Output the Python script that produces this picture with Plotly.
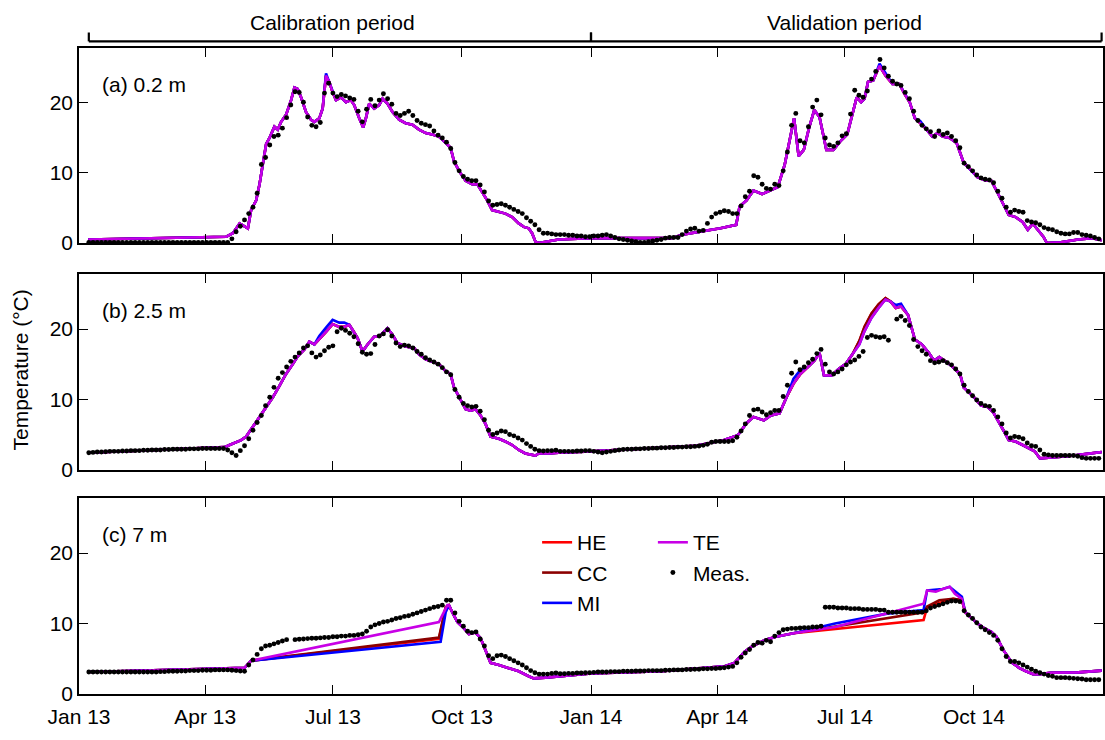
import pandas as pd
import plotly.graph_objects as go
from plotly.subplots import make_subplots

BASE = pd.Timestamp("2013-01-01")

# ---------------- axis ticks ----------------
tick_dates = ["2013-01-01", "2013-04-01", "2013-07-01", "2013-10-01",
              "2014-01-01", "2014-04-01", "2014-07-01", "2014-10-01"]
tick_text = ["Jan 13", "Apr 13", "Jul 13", "Oct 13", "Jan 14", "Apr 14", "Jul 14", "Oct 14"]
y_ticks = [0, 10, 20]

series_names = ["HE", "CC", "MI", "TE"]
series_colors = {"HE": "#ff0000", "CC": "#8b0000", "MI": "#0000ff", "TE": "#c800e6"}
panel_labels = ["(a) 0.2 m", "(b) 2.5 m", "(c) 7 m"]

# ---------------- simulated series: (days since 2013-01-01, temperature) -------------
# (a) 0.2 m  -- the four models overlap almost everywhere
a_te = [(6.6, 0.5), (105, 0.9), (109.7, 1.4), (114.5, 2.8), (120.4, 2.1), (122.7, 4.7), (126.3, 6.1),
        (128.7, 8.4), (131, 11.2), (133.4, 14.1), (135.8, 15.0), (139.3, 16.6), (141.7, 16.2),
        (144.1, 17.3), (147.6, 18.3), (151.2, 20.4), (153.6, 22.2), (155.9, 22.0), (158.3, 20.8),
        (161.8, 18.7), (165.4, 17.6), (167.8, 17.3), (171.3, 17.8), (173.7, 19.2), (176.1, 23.9),
        (178.4, 23.0), (180.8, 21.5), (183.2, 20.4), (186.7, 20.8), (190.3, 20.1), (193.8, 20.4),
        (196.2, 19.7), (199.8, 17.8), (202.6, 16.5), (204.5, 17.8), (206.9, 19.9), (210.4, 19.2),
        (214, 19.7), (216.4, 20.6), (219.9, 19.9), (223.5, 18.7), (228.2, 17.6), (232.9, 17.1),
        (237.7, 16.9), (242.4, 16.2), (247.2, 15.7), (251.9, 15.5), (256.6, 15.2), (261.4, 14.3),
        (264.9, 13.6), (267.3, 11.7), (270.9, 10.3), (275.6, 8.9), (280.3, 8.4), (283.9, 8.4),
        (287.4, 7.3), (291, 6.1), (294.5, 4.7), (299.3, 4.4), (304, 4.2), (308.8, 3.7), (313.5, 2.8),
        (317.1, 2.3), (320.6, 2.1), (323, 1.4), (325.4, 0.2), (327.7, 0.0), (334.8, 0.2), (341.9, 0.5),
        (365, 0.7), (422.7, 0.7), (430.1, 1.2), (440, 1.5), (457.3, 2.1), (468.5, 2.6), (470.9, 5.2),
        (475.9, 6.1), (480.8, 7.5), (487, 7.0), (492, 7.5), (498.2, 8.0), (503.1, 11.2), (506.8, 15.0),
        (509.8, 17.8), (513, 12.4), (516.7, 13.3), (520.4, 16.4), (524.2, 19.0), (527.9, 18.0),
        (532.8, 13.3), (537.8, 13.3), (542.7, 14.5), (547.7, 15.5), (551.4, 18.3), (554.4, 20.8),
        (557.6, 20.1), (560, 20.6), (562.5, 23.0), (566.2, 23.2), (570.7, 25.3), (574.9, 23.9),
        (579.9, 22.7), (584.8, 22.7), (588.5, 21.3), (592.2, 20.1), (595.9, 17.8), (599.7, 17.1),
        (603.4, 16.4), (608.3, 15.2), (612, 15.7), (615.7, 15.2), (620.7, 15.0), (625.6, 14.3),
        (630.6, 11.5), (635.5, 10.5), (640.5, 9.4), (646.7, 8.9), (650.4, 8.9), (655.3, 7.0),
        (659, 5.6), (662.8, 4.0), (667.7, 3.7), (672.7, 3.0), (676.4, 1.9), (680.1, 2.8), (682.6, 2.1),
        (687.5, 0.9), (690, 0.0), (699.9, 0.1), (712.3, 0.5), (722.2, 0.7), (729.1, 0.4)]
# places where another model shows just above TE (day -> value)
a_mi_diff = {176.1: 24.2, 570.7: 25.6, 574.9: 24.3, 599.7: 17.4}
a_he = a_te
a_cc = a_te
a_mi = [(d, a_mi_diff.get(d, v)) for d, v in a_te]

# (b) 2.5 m
b_te = [(6.6, 2.4), (103.8, 3.2), (107.3, 3.5), (115.6, 4.2), (119.2, 4.7), (123.9, 6.1), (128.7, 7.5),
        (133.4, 8.9), (138.2, 10.3), (142.9, 11.9), (147.6, 13.6), (152.4, 15.0), (155.9, 16.1),
        (160.7, 17.1), (164.2, 18.2), (167.8, 17.8), (171.3, 18.5), (176.1, 19.6), (180.8, 20.7),
        (185.5, 20.3), (189.1, 20.3), (192.7, 20.6), (195, 19.9), (198.6, 18.7), (202.1, 16.8),
        (205.7, 17.8), (210.4, 18.9), (214, 18.9), (219.9, 20.1), (223.5, 19.2), (227, 18.0),
        (232.9, 17.5), (238.9, 17.3), (242.4, 16.4), (247.2, 15.7), (251.9, 15.4), (256.6, 15.0),
        (261.4, 14.0), (264.9, 13.6), (267.3, 11.7), (270.9, 10.3), (275.6, 8.6), (279.1, 8.4),
        (282.7, 8.6), (286.3, 7.7), (289.8, 6.5), (293.4, 4.7), (299.3, 4.4), (304, 4.0), (308.8, 3.5),
        (313.5, 2.8), (318.2, 2.3), (325.4, 2.0), (327.7, 2.3), (334.8, 2.3), (341.9, 2.4), (365, 2.6),
        (415.2, 3.1), (440, 3.4), (459.8, 4.2), (469.7, 4.9), (475.9, 6.6), (480.8, 7.5), (488.3, 7.0),
        (493.2, 7.7), (499.4, 8.0), (504.4, 10.3), (509.3, 12.2), (514.3, 13.6), (519.2, 14.5),
        (524.2, 15.5), (527.9, 16.6), (531.1, 13.4), (536.5, 13.4), (541.5, 14.3), (546.4, 15.0),
        (551.4, 16.4), (556.3, 17.8), (560, 19.7), (565, 21.6), (570, 23.0), (574.9, 24.2),
        (578.6, 23.9), (582.3, 23.0), (586, 23.2), (591, 22.0), (595.9, 18.5), (600.9, 17.8),
        (605.8, 16.6), (609.6, 15.5), (613.3, 16.0), (617, 15.5), (621.9, 14.8), (628.1, 13.6),
        (630.6, 11.7), (634.3, 11.0), (638, 10.3), (643, 9.1), (647.9, 8.9), (651.6, 8.2), (655.3, 7.0),
        (659, 5.6), (662.8, 4.2), (667.7, 4.0), (672.7, 3.5), (677.6, 3.0), (681.3, 2.6), (685, 1.6),
        (692.5, 1.7), (704.8, 1.9), (717.2, 2.2), (729.1, 2.5)]
b_mi_diff = {171.3: 19.0, 176.1: 20.2, 180.8: 21.3, 185.5: 20.9, 189.1: 20.9, 509.3: 12.9,
             514.3: 14.2, 582.3: 23.4, 586: 23.6}
b_cc_diff = {556.3: 18.3, 560: 20.3, 565: 22.2, 570: 23.5, 574.9: 24.4}
b_he = [(d, b_cc_diff.get(d, v)) for d, v in b_te]
b_cc = [(d, b_cc_diff.get(d, v)) for d, v in b_te]
b_mi = [(d, b_mi_diff.get(d, v)) for d, v in b_te]

# (c) 7 m  -- models diverge while the sensor was away
c_common_1 = [(6.6, 3.1), (112.1, 3.6), (118, 3.7), (122.7, 4.7)]
c_te_gap1 = [(256.6, 10.2), (262.6, 12.6)]
c_cc_gap1 = [(256.6, 8.0), (261.4, 12.3)]
c_he_gap1 = [(256.6, 7.8), (261.4, 12.3)]
c_mi_gap1 = [(257.8, 7.4), (261.4, 11.6)]
c_common_2 = [(263.7, 12.6), (266.1, 11.6), (269.7, 10.2), (274.4, 9.3), (278, 8.5), (282.7, 8.7),
              (286.3, 7.9), (289.8, 6.2), (293.4, 4.4), (299.3, 4.1), (306.4, 3.7), (313.5, 3.2),
              (320.6, 2.5), (324.2, 2.2), (332.5, 2.3), (341.9, 2.5), (365, 2.9), (415.2, 3.2),
              (459.8, 3.9), (467.2, 4.4), (474.7, 6.0), (479.6, 6.7), (484.6, 7.2), (489.5, 7.7),
              (496.9, 8.1), (509.3, 8.6)]
c_te_gap2 = [(539, 9.5), (576.1, 11.4), (602.1, 12.8), (604.6, 14.7), (610.8, 14.5), (615.7, 14.9),
             (620.7, 15.2), (624.4, 14.2), (629.4, 13.5)]
c_mi_gap2 = [(539, 10.0), (576.1, 11.4), (602.1, 11.9), (604.6, 14.7), (615.7, 14.9), (620.7, 15.2),
             (629.4, 13.8)]
c_cc_gap2 = [(602.1, 11.6), (604.6, 12.4), (613.3, 13.3), (623.2, 13.5), (629.4, 13.3)]
c_he_gap2 = [(602.1, 10.5), (604.6, 12.3), (613.3, 12.9), (623.2, 13.5), (629.4, 13.3)]
c_common_3 = [(631.8, 11.6), (635.5, 10.9), (640.5, 10.0), (645.4, 9.3), (650.4, 8.8), (654.1, 8.1),
              (659, 6.2), (665.2, 4.4), (670.2, 3.7), (675.1, 3.2), (680.1, 2.8), (685, 2.8),
              (692.5, 3.0), (712.3, 3.05), (729.1, 3.3)]
c_he = c_common_1 + c_he_gap1 + c_common_2 + c_he_gap2 + c_common_3
c_cc = c_common_1 + c_cc_gap1 + c_common_2 + c_cc_gap2 + c_common_3
c_mi = c_common_1 + c_mi_gap1 + c_common_2 + c_mi_gap2 + c_common_3
c_te = c_common_1 + c_te_gap1 + c_common_2 + c_te_gap2 + c_common_3

# ---------------- measurements: every 3rd day from 2013-01-08 ----------------
meas_start = "2013-01-08"
meas_step_days = 3
a_meas = [0.1, 0.1, 0.1, 0.1, 0.1, 0.1, 0.1, 0.1, 0.1, 0.1,
          0.1, 0.1, 0.1, 0.1, 0.1, 0.1, 0.1, 0.1, 0.1, 0.1,
          0.1, 0.1, 0.1, 0.1, 0.1, 0.1, 0.1, 0.1, 0.1, 0.1,
          0.1, 0.1, 0.1, 0.1, 0.6, 1.6, 2.4, 3.3, 4.2, 5.1,
          7.1, 11.2, 12.2, 14.0, 15.2, 15.4, 16.4, 17.9, 19.7, 21.6,
          21.5, 20.1, 18.0, 16.8, 16.6, 17.2, 21.4, 22.8, 21.4, 20.9,
          21.2, 21.0, 20.7, 20.5, 18.8, 17.3, 19.1, 20.5, 19.6, 20.4,
          21.3, 20.6, 19.8, 18.5, 18.2, 18.5, 18.8, 18.2, 17.5, 17.1,
          16.9, 16.7, 16.0, 15.4, 15.0, 14.4, 13.5, 11.5, 10.3, 9.5,
          9.1, 8.9, 8.9, 8.3, 7.3, 6.0, 5.4, 5.5, 5.6, 5.4,
          5.1, 4.8, 4.5, 4.2, 3.6, 3.1, 2.6, 1.9, 1.4, 1.4,
          1.3, 1.2, 1.2, 1.2, 1.1, 1.1, 1.0, 1.0, 0.9, 0.9,
          1.0, 1.0, 1.1, 1.2, 1.0, 0.8, 0.6, 0.5, 0.4, 0.3,
          0.2, 0.1, 0.1, 0.2, 0.3, 0.4, 0.5, 0.7, 0.8, 0.8,
          0.8, 1.2, 1.7, 2.0, 2.1, 1.7, 1.8, 2.8, 3.7, 4.2,
          4.4, 4.6, 4.5, 4.2, 4.2, 5.3, 6.6, 7.4, 9.6, 9.4,
          8.4, 7.8, 7.7, 8.4, 8.2, 10.3, 13.0, 16.8, 18.5, 14.6,
          14.3, 16.6, 19.4, 20.4, 18.3, 15.0, 14.0, 13.8, 14.3, 15.3,
          15.6, 18.4, 21.8, 21.1, 20.8, 21.7, 23.4, 24.5, 26.2, 25.0,
          23.8, 23.1, 22.7, 22.5, 21.5, 20.6, 18.8, 17.5, 16.8, 16.3,
          15.9, 15.2, 16.0, 15.5, 15.7, 15.2, 14.6, 13.6, 11.4, 10.9,
          10.3, 9.7, 9.3, 9.1, 9.0, 8.6, 7.4, 6.4, 5.1, 4.4,
          4.7, 4.5, 4.4, 3.2, 3.0, 2.9, 2.6, 2.2, 2.0, 1.9,
          1.6, 1.4, 1.3, 1.3, 1.5, 1.5, 1.2, 1.1, 1.0, 0.8,
          0.6]
b_meas = [2.4, 2.45, 2.5, 2.5, 2.55, 2.6, 2.6, 2.6, 2.65, 2.65,
          2.7, 2.7, 2.7, 2.75, 2.75, 2.8, 2.8, 2.8, 2.85, 2.85,
          2.9, 2.9, 2.9, 2.9, 2.95, 2.95, 2.95, 3.0, 3.0, 3.0,
          3.0, 3.0, 3.0, 2.8, 2.4, 2.0, 2.7, 3.4, 4.4, 5.6,
          6.7, 7.7, 9.1, 10.3, 11.7, 13.0, 13.8, 14.6, 15.4, 16.0,
          16.6, 17.3, 17.6, 16.6, 16.0, 16.3, 16.9, 17.4, 17.6, 19.6,
          20.1, 19.8, 19.4, 18.9, 17.9, 16.7, 16.4, 16.5, 17.8, 19.0,
          19.3, 19.9, 19.0, 18.0, 17.5, 17.7, 17.6, 17.3, 16.8, 16.4,
          15.9, 15.6, 15.3, 15.0, 14.5, 13.9, 13.5, 11.4, 10.3, 9.4,
          9.1, 8.9, 9.0, 8.3, 7.1, 5.6, 5.0, 5.2, 5.5, 5.4,
          5.0, 4.8, 4.5, 4.2, 3.7, 3.3, 2.9, 2.7, 2.65, 2.7,
          2.7, 2.75, 2.6, 2.6, 2.6, 2.6, 2.65, 2.65, 2.7, 2.7,
          2.6, 2.5, 2.4, 2.5, 2.6, 2.7, 2.8, 2.85, 2.9, 2.9,
          2.95, 2.95, 3.0, 3.0, 3.05, 3.05, 3.1, 3.1, 3.15, 3.15,
          3.2, 3.2, 3.25, 3.25, 3.3, 3.35, 3.45, 3.6, 3.9, 4.0,
          4.0, 4.0, 4.0, 4.1, 4.6, 5.5, 6.5, 7.7, 8.5, 8.6,
          8.2, 7.8, 8.1, 8.4, 8.4, 10.4, 12.0, 13.7, 15.3, 14.2,
          14.6, 15.2, 15.7, 16.5, 17.1, 15.0, 13.9, 13.6, 13.9, 14.3,
          14.9, 15.3, 15.6, 16.1, 16.8, 18.8, 19.1, 18.9, 18.8, 18.9,
          18.4, None, 21.4, 21.8, 21.2, 20.5, 18.5, 17.5, 16.9, 16.4,
          15.5, 15.2, 15.3, 15.5, 15.2, 14.9, 14.3, 13.6, 12.0, 11.1,
          10.5, 9.9, 9.4, 9.1, 9.0, 8.4, 7.5, 6.5, 5.2, 4.5,
          4.7, 4.6, 4.4, 3.8, 3.4, 3.3, 2.8, 2.2, 2.1, 2.0,
          2.0, 2.0, 2.0, 2.0, 2.0, 1.9, 1.7, 1.6, 1.6, 1.6,
          1.6]
c_meas = [3.1, 3.1, 3.1, 3.1, 3.1, 3.1, 3.1, 3.1, 3.1, 3.1,
          3.1, 3.1, 3.1, 3.1, 3.1, 3.1, 3.1, 3.15, 3.15, 3.2,
          3.2, 3.2, 3.25, 3.25, 3.3, 3.3, 3.3, 3.35, 3.35, 3.35,
          3.4, 3.4, 3.4, 3.4, 3.35, 3.3, 3.25, 3.2, 4.1, 4.8,
          5.6, 6.4, 6.8, 6.9, 7.1, 7.3, 7.5, 7.7, None, 7.7,
          7.75, 7.8, 7.85, 7.9, 7.9, 7.95, 8.0, 8.0, 8.1, 8.1,
          8.2, 8.2, 8.3, 8.3, 8.4, 8.5, 8.9, 9.5, 9.8, 10.0,
          10.2, 10.3, 10.5, 10.7, 10.8, 11.0, 11.1, 11.3, 11.5, 11.7,
          11.9, 12.1, 12.3, 12.4, 12.6, 13.3, 13.3, 11.5, 10.3, 9.6,
          8.9, 8.7, 8.8, 7.8, 6.8, 5.4, 5.0, 5.4, 5.5, 5.3,
          5.0, 4.7, 4.4, 4.1, 3.7, 3.3, 3.0, 2.8, 2.8, 2.8,
          2.9, 2.95, 2.85, 2.85, 2.9, 2.9, 2.95, 2.95, 3.0, 3.0,
          3.05, 3.1, 3.1, 3.1, 3.15, 3.15, 3.15, 3.2, 3.2, 3.2,
          3.25, 3.25, 3.25, 3.3, 3.3, 3.3, 3.3, 3.35, 3.35, 3.4,
          3.4, 3.4, 3.45, 3.45, 3.5, 3.5, 3.55, 3.55, 3.6, 3.6,
          3.65, 3.7, 3.8, 3.9, 4.4, 5.2, 5.8, 6.3, 6.9, 7.3,
          7.2, 7.6, 7.4, 8.2, 8.7, 9.1, 9.2, 9.3, 9.3, 9.35,
          9.4, 9.4, 9.5, 9.5, 9.6, 12.3, 12.3, 12.3, 12.2, 12.2,
          12.2, 12.1, 12.1, 12.1, 12.0, 12.0, 12.0, 12.0, 11.9, 11.9,
          11.6, 11.6, 11.6, 11.6, 11.6, 11.6, 11.6, 11.6, 11.6, 11.8,
          12.2, 12.4, 12.6, 12.8, 13.0, 13.2, 13.2, 13.1, 11.8, 11.2,
          10.7, 10.1, 9.5, 9.1, 8.7, 8.3, 7.6, 6.4, 5.3, 4.6,
          4.6, 4.4, 4.1, 3.8, 3.5, 3.2, 3.0, 2.8, 2.6, 2.5,
          2.3, 2.3, 2.3, 2.25, 2.2, 2.15, 2.1, 2.0, 2.0, 2.0,
          2.0]

# period brackets: label, start, end, label centre
periods = [("Calibration period", "2013-01-08", "2014-01-01", "2013-07-01"),
           ("Validation period", "2014-01-01", "2014-12-31", "2014-07-01")]

# ---------------- build figure ----------------
def to_dates(days):
    return [BASE + pd.Timedelta(days=float(d)) for d in days]

panels = [
    ({"HE": a_he, "CC": a_cc, "MI": a_mi, "TE": a_te}, a_meas),
    ({"HE": b_he, "CC": b_cc, "MI": b_mi, "TE": b_te}, b_meas),
    ({"HE": c_he, "CC": c_cc, "MI": c_mi, "TE": c_te}, c_meas),
]

FONT = "Liberation Sans, Arial, Helvetica, sans-serif"
FS = 21

fig = make_subplots(rows=3, cols=1)
for i, (series, meas) in enumerate(panels):
    row = i + 1
    for name in series_names:
        pts = series[name]
        fig.add_trace(go.Scatter(
            x=to_dates([p[0] for p in pts]), y=[p[1] for p in pts],
            mode="lines", name=name,
            line=dict(color=series_colors[name], width=2.6),
            showlegend=(row == 3),
            legend="legend2" if name == "TE" else "legend",
        ), row=row, col=1)
    mdates = pd.date_range(meas_start, periods=len(meas), freq=f"{meas_step_days}D")
    fig.add_trace(go.Scatter(
        x=mdates, y=meas, mode="markers", name="Meas.",
        marker=dict(color="black", size=4.9, line=dict(width=0)),
        showlegend=(row == 3), legend="legend2",
    ), row=row, col=1)

W, H = 1105, 740
def py(px):
    return 1 - px / H

y_domains = [[py(246.7), py(49)], [py(476.7), py(278.3)], [py(704.3), py(505.7)]]

axis_common = dict(showline=True, linecolor="black", linewidth=1.5, mirror="ticks",
                   ticks="inside", ticklen=9, tickwidth=1.2, tickcolor="black",
                   showgrid=False, zeroline=False)
for i in range(3):
    sfx = "" if i == 0 else str(i + 1)
    fig.layout["xaxis" + sfx].update(
        range=["2013-01-01", "2015-01-01"], tickmode="array",
        tickvals=tick_dates, ticktext=tick_text, ticklabelstandoff=3,
        showticklabels=(i == 2), **axis_common)
    fig.layout["yaxis" + sfx].update(
        range=[0, 27.8], tickmode="array", tickvals=y_ticks,
        domain=y_domains[i], **axis_common)

annotations = []
for i, lab in enumerate(panel_labels):
    top = [49, 278.3, 505.7][i]
    annotations.append(dict(text=lab, xref="paper", yref="paper", x=21 / 1026, y=py(top + 37),
                            xanchor="left", yanchor="middle", showarrow=False,
                            font=dict(size=FS)))
annotations.append(dict(text="Temperature (°C)", xref="paper", yref="paper",
                        x=-59 / 1026, y=py(376), textangle=-90, xanchor="center",
                        yanchor="middle", showarrow=False, font=dict(size=FS)))

shapes = []
yb, yt = py(42), py(33)
for text, x0, x1, xc in periods:
    shapes.append(dict(type="line", xref="x", yref="paper", x0=x0, x1=x1, y0=yb, y1=yb,
                       line=dict(color="black", width=2.2)))
    for xx in (x0, x1):
        shapes.append(dict(type="line", xref="x", yref="paper", x0=xx, x1=xx, y0=yb, y1=yt,
                           line=dict(color="black", width=2.2)))
    annotations.append(dict(text=text, xref="x", yref="paper", x=xc, y=py(23),
                            xanchor="center", yanchor="middle", showarrow=False,
                            font=dict(size=FS)))

fig.update_layout(
    width=W, height=H,
    margin=dict(l=79, r=0, t=0, b=0),
    paper_bgcolor="white", plot_bgcolor="white",
    font=dict(family=FONT, size=FS, color="black"),
    annotations=annotations, shapes=shapes,
    legend=dict(x=(538 - 79) / 1026, y=py(530), xanchor="left", yanchor="top",
                bgcolor="rgba(0,0,0,0)", font=dict(size=FS), tracegroupgap=0),
    legend2=dict(x=(654 - 79) / 1026, y=py(530), xanchor="left", yanchor="top",
                 bgcolor="rgba(0,0,0,0)", font=dict(size=FS), tracegroupgap=0),
)

fig.write_html("out.html")
